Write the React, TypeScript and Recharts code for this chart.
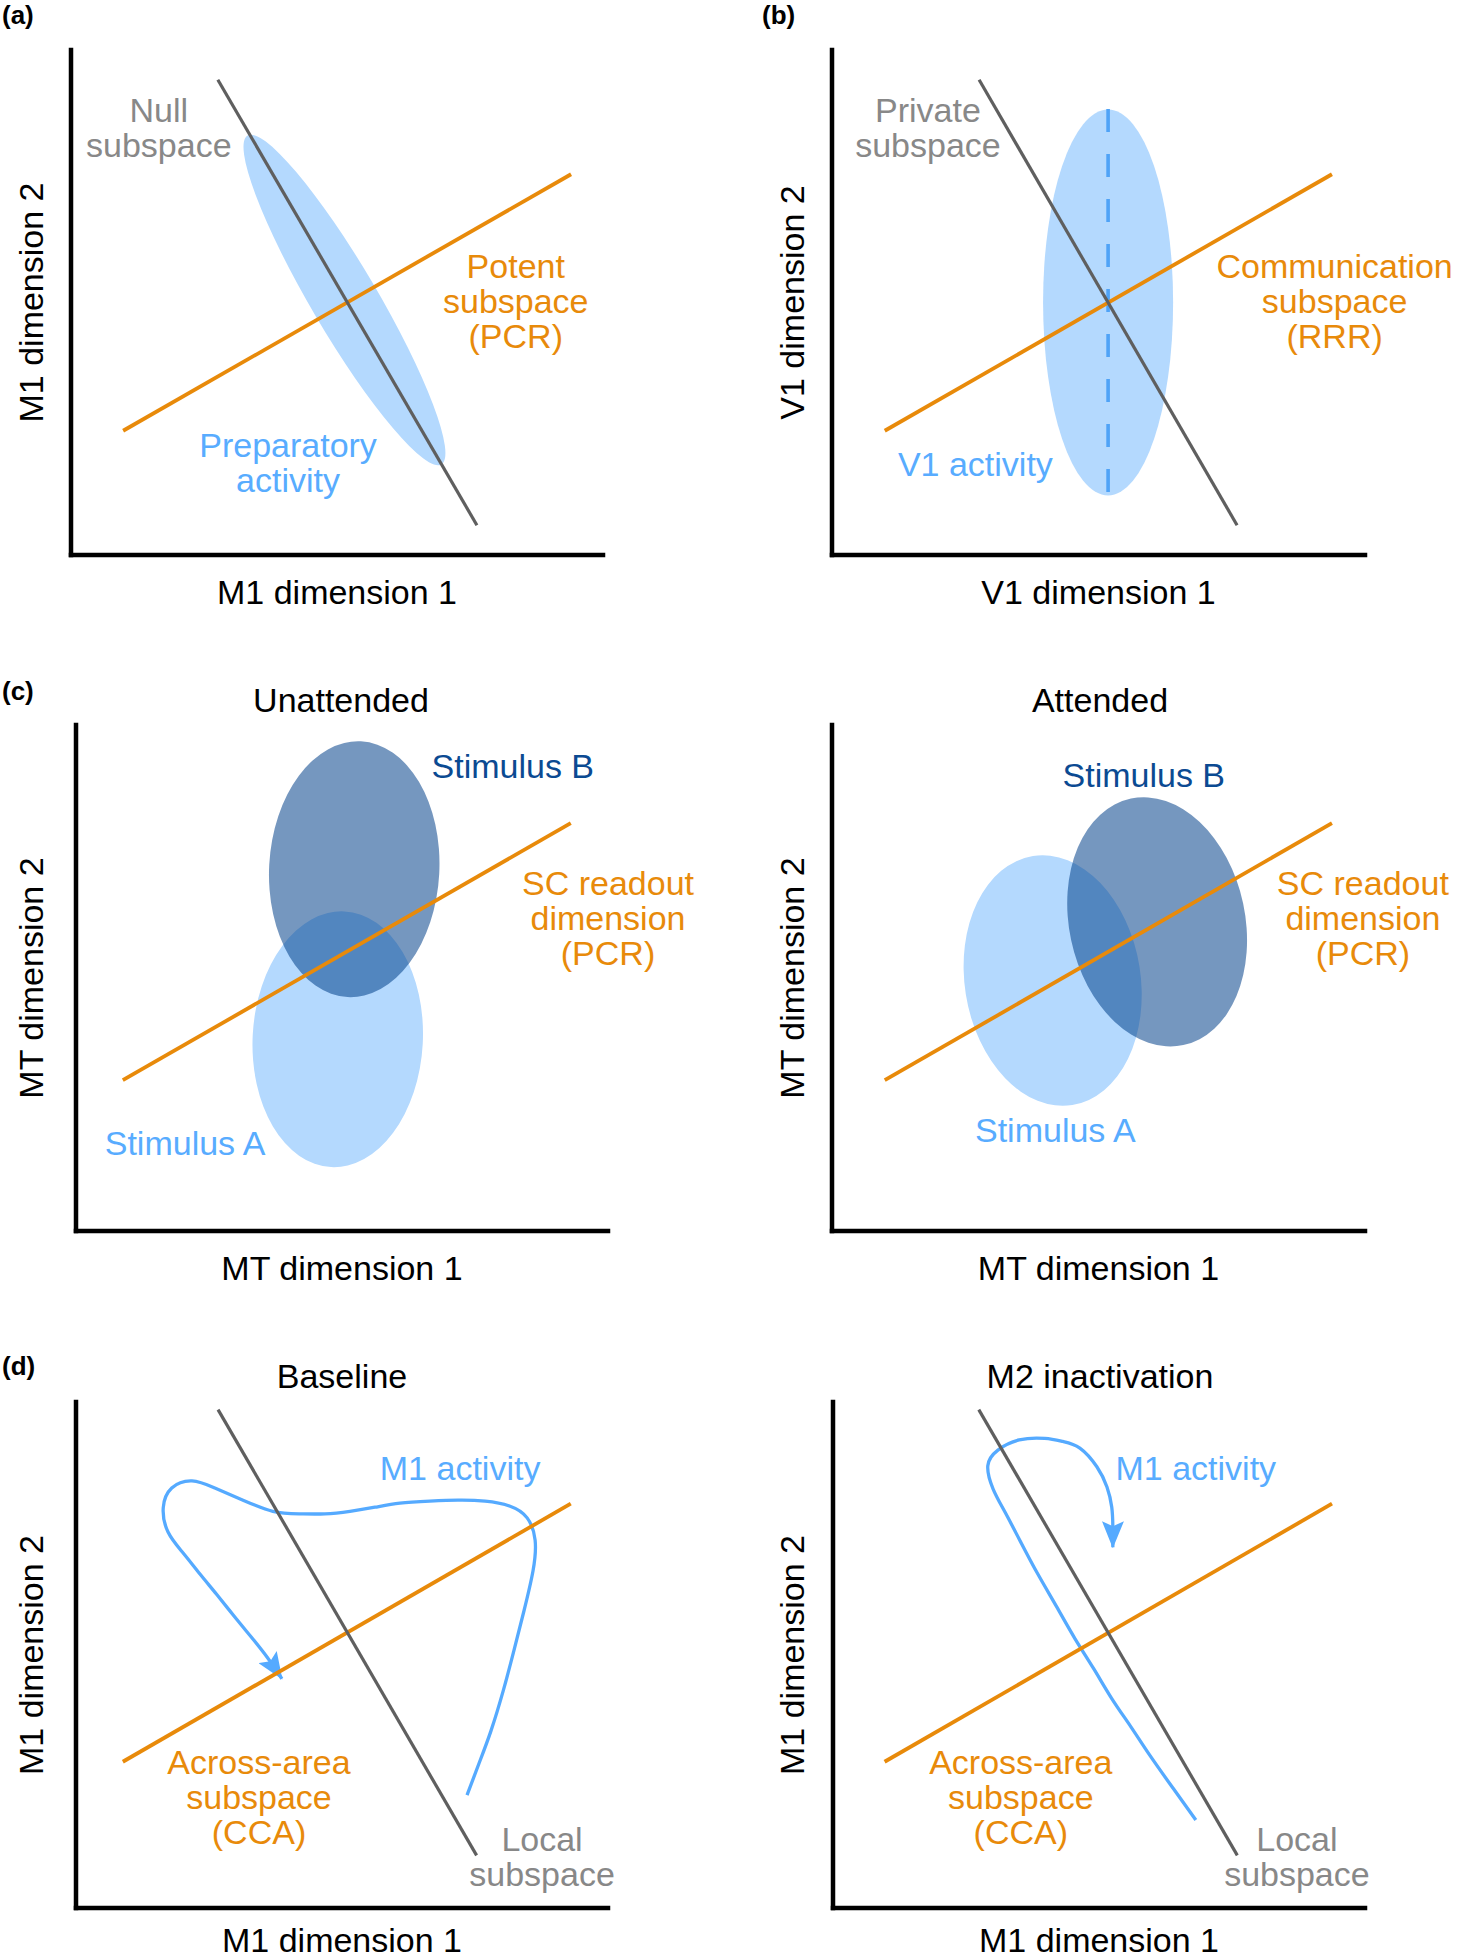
import React from "react";
import { ComposedChart, Line, Scatter, XAxis, YAxis } from "recharts";

type Pt = { x: number; y: number };
type Blob = { x: number; y: number; rx: number; ry: number; tilt: number };
type Note = { x: number; y: number; lines: string[] };

// all values in "dimension" units, 0..100 on both axes of every panel

// (a) M1 preparatory activity
const nullLineA: Pt[] = [{ x: 27.6, y: 94.1 }, { x: 76.3, y: 5.9 }];
const potentLineA: Pt[] = [{ x: 9.8, y: 24.6 }, { x: 94.0, y: 75.4 }];
const prepCloudA: Blob[] = [{ x: 51.4, y: 50.5, rx: 6.2, ry: 37.8, tilt: -30.5 }];
const greyNotesA: Note[] = [{ x: 16.5, y: 85.7, lines: ["Null", "subspace"] }];
const orangeNotesA: Note[] = [{ x: 83.6, y: 54.9, lines: ["Potent", "subspace", "(PCR)"] }];
const blueNotesA: Note[] = [{ x: 40.8, y: 19.4, lines: ["Preparatory", "activity"] }];

// (b) V1 activity
const privateLineB: Pt[] = [{ x: 27.6, y: 94.1 }, { x: 76.0, y: 5.9 }];
const commLineB: Pt[] = [{ x: 9.9, y: 24.6 }, { x: 93.8, y: 75.4 }];
const v1CloudB: Blob[] = [{ x: 51.8, y: 50.0, rx: 12.2, ry: 38.2, tilt: 0 }];
const v1AxisB: Pt[] = [{ x: 51.8, y: 88.3 }, { x: 51.8, y: 11.7 }];
const greyNotesB: Note[] = [{ x: 18.0, y: 85.7, lines: ["Private", "subspace"] }];
const orangeNotesB: Note[] = [{ x: 94.3, y: 54.9, lines: ["Communication", "subspace", "(RRR)"] }];
const blueNotesB: Note[] = [{ x: 26.9, y: 15.7, lines: ["V1 activity"] }];

// (c) unattended
const readoutC1: Pt[] = [{ x: 8.8, y: 29.8 }, { x: 93.0, y: 80.6 }];
const stimAC1: Blob[] = [{ x: 49.2, y: 37.9, rx: 16.0, ry: 25.3, tilt: 3 }];
const stimBC1: Blob[] = [{ x: 52.3, y: 71.5, rx: 16.0, ry: 25.3, tilt: 3 }];
const navyNotesC1: Note[] = [{ x: 82.1, y: 89.6, lines: ["Stimulus B"] }];
const orangeNotesC1: Note[] = [{ x: 100, y: 66.4, lines: ["SC readout", "dimension", "(PCR)"] }];
const blueNotesC1: Note[] = [{ x: 20.5, y: 15.0, lines: ["Stimulus A"] }];

// (c) attended
const readoutC2: Pt[] = [{ x: 9.9, y: 29.8 }, { x: 93.8, y: 80.6 }];
const stimAC2: Blob[] = [{ x: 41.4, y: 49.5, rx: 16.5, ry: 24.9, tilt: -9 }];
const stimBC2: Blob[] = [{ x: 61.0, y: 61.1, rx: 16.5, ry: 24.9, tilt: -12 }];
const navyNotesC2: Note[] = [{ x: 58.5, y: 87.7, lines: ["Stimulus B"] }];
const orangeNotesC2: Note[] = [{ x: 99.6, y: 66.4, lines: ["SC readout", "dimension", "(PCR)"] }];
const blueNotesC2: Note[] = [{ x: 41.9, y: 17.6, lines: ["Stimulus A"] }];

// (d) baseline
const localLineD1: Pt[] = [{ x: 26.7, y: 98.5 }, { x: 75.3, y: 10.4 }];
const acrossLineD1: Pt[] = [{ x: 8.8, y: 28.9 }, { x: 93.0, y: 79.9 }];
const trajD1: Pt[] = [
  { x: 73.5, y: 22.3 }, { x: 75.8, y: 28.7 }, { x: 78.0, y: 35.0 }, { x: 80.3, y: 42.9 },
  { x: 82.3, y: 50.8 }, { x: 84.2, y: 58.7 }, { x: 85.9, y: 66.6 }, { x: 86.3, y: 72.7 },
  { x: 84.8, y: 77.1 }, { x: 81.6, y: 79.4 }, { x: 76.9, y: 80.4 }, { x: 71.8, y: 80.6 },
  { x: 66.5, y: 80.4 }, { x: 60.9, y: 80.0 }, { x: 56.2, y: 79.2 }, { x: 51.5, y: 78.4 },
  { x: 46.8, y: 77.9 }, { x: 42.1, y: 77.9 }, { x: 37.0, y: 78.4 }, { x: 31.4, y: 80.6 },
  { x: 26.1, y: 83.0 }, { x: 21.8, y: 84.4 }, { x: 18.0, y: 83.0 }, { x: 16.4, y: 79.1 },
  { x: 17.3, y: 74.3 }, { x: 20.1, y: 70.2 }, { x: 23.3, y: 66.0 }, { x: 26.5, y: 61.9 },
  { x: 29.7, y: 57.7 }, { x: 32.9, y: 53.6 }, { x: 35.9, y: 49.6 }, { x: 38.7, y: 45.3 },
];
const blueNotesD1: Note[] = [{ x: 72.2, y: 84.5, lines: ["M1 activity"] }];
const orangeNotesD1: Note[] = [{ x: 34.4, y: 26.4, lines: ["Across-area", "subspace", "(CCA)"] }];
const greyNotesD1: Note[] = [{ x: 87.6, y: 11.2, lines: ["Local", "subspace"] }];

// (d) M2 inactivation
const localLineD2: Pt[] = [{ x: 27.4, y: 98.5 }, { x: 76.0, y: 10.4 }];
const acrossLineD2: Pt[] = [{ x: 9.7, y: 28.9 }, { x: 93.8, y: 79.9 }];
const trajD2: Pt[] = [
  { x: 68.2, y: 17.4 }, { x: 63.9, y: 23.7 }, { x: 59.6, y: 30.1 }, { x: 56.0, y: 35.8 },
  { x: 52.4, y: 41.4 }, { x: 49.0, y: 47.3 }, { x: 45.5, y: 53.2 }, { x: 42.0, y: 59.6 },
  { x: 38.5, y: 66.0 }, { x: 35.4, y: 72.1 }, { x: 32.3, y: 78.3 }, { x: 30.1, y: 82.8 },
  { x: 29.1, y: 87.4 }, { x: 31.0, y: 90.5 }, { x: 35.0, y: 92.5 }, { x: 39.8, y: 92.8 },
  { x: 43.2, y: 92.2 }, { x: 46.4, y: 90.9 }, { x: 49.6, y: 87.2 }, { x: 51.5, y: 83.2 },
  { x: 52.4, y: 79.2 }, { x: 52.6, y: 75.3 }, { x: 52.6, y: 71.3 },
];
const blueNotesD2: Note[] = [{ x: 68.2, y: 84.5, lines: ["M1 activity"] }];
const orangeNotesD2: Note[] = [{ x: 35.3, y: 26.4, lines: ["Across-area", "subspace", "(CCA)"] }];
const greyNotesD2: Note[] = [{ x: 87.2, y: 11.2, lines: ["Local", "subspace"] }];

const FONT = "'Liberation Sans', Arial, Helvetica, sans-serif";
const FS = 34;
const LINE_GREY = "#5f5f5f";
const ORANGE = "#e88a0a";
const LIGHT = "#b4d9fe";
const DARK = "#003e88";
const BLUE = "#55aaff";
const TEXT_GREY = "#888888";
const TEXT_BLUE = "#58acff";
const TEXT_NAVY = "#0b4a92";

type Frame = {
  left: number; top: number; width: number; height: number;
  pl: number; pt: number; pr: number; pb: number; gap: number; below: number;
};

const FA: Frame = { left: 0, top: 0, width: 729, height: 640, pl: 71, pt: 50, pr: 603, pb: 555, gap: 28, below: 48.5 };
const FB: Frame = { left: 729, top: 0, width: 729, height: 640, pl: 832, pt: 50, pr: 1365, pb: 555, gap: 28, below: 48.5 };
const FC1: Frame = { left: 0, top: 640, width: 729, height: 660, pl: 76, pt: 725, pr: 608, pb: 1231, gap: 33, below: 48.5 };
const FC2: Frame = { left: 729, top: 640, width: 729, height: 660, pl: 832, pt: 725, pr: 1365, pb: 1231, gap: 28, below: 48.5 };
const FD1: Frame = { left: 0, top: 1320, width: 729, height: 680, pl: 76, pt: 1402, pr: 608, pb: 1908, gap: 33, below: 44 };
const FD2: Frame = { left: 729, top: 1320, width: 729, height: 680, pl: 833, pt: 1402, pr: 1365, pb: 1908, gap: 29, below: 44 };

const X_H = 50;
const Y_W = 60;
const AXIS = { stroke: "#000", strokeWidth: 4.5, strokeLinecap: "square" as const };

function XTitle(props: any) {
  const vb = props.viewBox || { x: 0, y: 0, width: 0 };
  return (
    <text x={vb.x + vb.width / 2} y={vb.y + props.below} textAnchor="middle" fontFamily={FONT} fontSize={FS} fill="#000">
      {props.text}
    </text>
  );
}

function YTitle(props: any) {
  const vb = props.viewBox || { x: 0, y: 0, width: 0, height: 0 };
  const x = vb.x + vb.width - props.gap;
  const y = vb.y + vb.height / 2;
  return (
    <text x={x} y={y} transform={`rotate(-90 ${x} ${y})`} textAnchor="middle" fontFamily={FONT} fontSize={FS} fill="#000">
      {props.text}
    </text>
  );
}

const noSymbol = () => <g />;

// straight subspace lines as scatter lines so they stack above the clouds
const straight = (key: string, data: Pt[], color: string, width: number, dash?: string) => (
  <Scatter key={key} data={data} dataKey="y" isAnimationActive={false} shape={noSymbol}
    line={{ stroke: color, strokeWidth: width, strokeDasharray: dash }} lineType="joint" />
);

const path = (key: string, data: Pt[]) => (
  <Line key={key} data={data} dataKey="y" type="natural" stroke={BLUE} strokeWidth={3.3}
    markerEnd="url(#arrowhead)" dot={false} activeDot={false} isAnimationActive={false} />
);

const cloud = (key: string, data: Blob[], f: Frame, fill: string, opacity: number) => {
  const sx = (f.pr - f.pl) / 100;
  const sy = (f.pb - f.pt) / 100;
  return (
    <Scatter key={key} data={data} dataKey="y" isAnimationActive={false}
      shape={(p: any) => {
        const b = p.payload as Blob;
        return (
          <ellipse cx={p.cx} cy={p.cy} rx={b.rx * sx} ry={b.ry * sy}
            transform={`rotate(${b.tilt} ${p.cx} ${p.cy})`} fill={fill} fillOpacity={opacity} />
        );
      }} />
  );
};

const notes = (key: string, data: Note[], color: string) => (
  <Scatter key={key} data={data} dataKey="y" isAnimationActive={false}
    shape={(p: any) => {
      const n = p.payload as Note;
      return (
        <text x={p.cx} y={p.cy} fill={color} textAnchor="middle" fontFamily={FONT} fontSize={FS}>
          {n.lines.map((l, i) => (
            <tspan key={i} x={p.cx} dy={i === 0 ? 0 : 35}>{l}</tspan>
          ))}
        </text>
      );
    }} />
);

function Panel({ f, xTitle, yTitle, children }: { f: Frame; xTitle: string; yTitle: string; children: React.ReactNode }) {
  return (
    <div style={{ position: "absolute", left: f.left, top: f.top }}>
      <ComposedChart width={f.width} height={f.height}
        margin={{
          top: f.pt - f.top,
          left: f.pl - f.left - Y_W,
          right: f.left + f.width - f.pr,
          bottom: f.top + f.height - f.pb - X_H,
        }}>
        <XAxis type="number" dataKey="x" domain={[0, 100]} height={X_H} tick={false} tickLine={false}
          axisLine={AXIS} label={<XTitle text={xTitle} below={f.below} />} />
        <YAxis type="number" domain={[0, 100]} width={Y_W} tick={false} tickLine={false}
          axisLine={AXIS} label={<YTitle text={yTitle} gap={f.gap} />} />
        {children}
      </ComposedChart>
    </div>
  );
}

const txt = { fontFamily: FONT, fontSize: FS, fill: "#000" };
const letter = { fontFamily: FONT, fontSize: 26, fontWeight: 700, fill: "#000" };

export default function App() {
  return (
    <div style={{ position: "fixed", left: 0, top: 0, width: 1458, height: 1959, overflow: "hidden", background: "#fff" }}>
      <Panel f={FA} xTitle="M1 dimension 1" yTitle="M1 dimension 2">
        {[
          cloud("prep", prepCloudA, FA, LIGHT, 1),
          straight("potent", potentLineA, ORANGE, 3.8),
          straight("null", nullLineA, LINE_GREY, 3.2),
          notes("ng", greyNotesA, TEXT_GREY),
          notes("no", orangeNotesA, ORANGE),
          notes("nb", blueNotesA, TEXT_BLUE),
        ]}
      </Panel>
      <Panel f={FB} xTitle="V1 dimension 1" yTitle="V1 dimension 2">
        {[
          cloud("v1", v1CloudB, FB, LIGHT, 1),
          straight("v1axis", v1AxisB, "#4fa3f7", 3.6, "23 22"),
          straight("comm", commLineB, ORANGE, 3.8),
          straight("private", privateLineB, LINE_GREY, 3.2),
          notes("ng", greyNotesB, TEXT_GREY),
          notes("no", orangeNotesB, ORANGE),
          notes("nb", blueNotesB, TEXT_BLUE),
        ]}
      </Panel>
      <Panel f={FC1} xTitle="MT dimension 1" yTitle="MT dimension 2">
        {[
          cloud("a", stimAC1, FC1, LIGHT, 1),
          cloud("b", stimBC1, FC1, DARK, 0.54),
          straight("readout", readoutC1, ORANGE, 3.8),
          notes("nn", navyNotesC1, TEXT_NAVY),
          notes("no", orangeNotesC1, ORANGE),
          notes("nb", blueNotesC1, TEXT_BLUE),
        ]}
      </Panel>
      <Panel f={FC2} xTitle="MT dimension 1" yTitle="MT dimension 2">
        {[
          cloud("a", stimAC2, FC2, LIGHT, 1),
          cloud("b", stimBC2, FC2, DARK, 0.54),
          straight("readout", readoutC2, ORANGE, 3.8),
          notes("nn", navyNotesC2, TEXT_NAVY),
          notes("no", orangeNotesC2, ORANGE),
          notes("nb", blueNotesC2, TEXT_BLUE),
        ]}
      </Panel>
      <Panel f={FD1} xTitle="M1 dimension 1" yTitle="M1 dimension 2">
        {[
          straight("across", acrossLineD1, ORANGE, 3.8),
          straight("local", localLineD1, LINE_GREY, 3.2),
          path("traj", trajD1),
          notes("nb", blueNotesD1, TEXT_BLUE),
          notes("no", orangeNotesD1, ORANGE),
          notes("ng", greyNotesD1, TEXT_GREY),
        ]}
      </Panel>
      <Panel f={FD2} xTitle="M1 dimension 1" yTitle="M1 dimension 2">
        {[
          straight("across", acrossLineD2, ORANGE, 3.8),
          straight("local", localLineD2, LINE_GREY, 3.2),
          path("traj", trajD2),
          notes("nb", blueNotesD2, TEXT_BLUE),
          notes("no", orangeNotesD2, ORANGE),
          notes("ng", greyNotesD2, TEXT_GREY),
        ]}
      </Panel>
      <svg width={1458} height={1959} style={{ position: "absolute", left: 0, top: 0, pointerEvents: "none" }}>
        <defs>
          <marker id="arrowhead" viewBox="0 0 27 22" markerWidth={27} markerHeight={22} refX={26} refY={11}
            orient="auto" markerUnits="userSpaceOnUse">
            <path d="M0,0 L27,11 L0,22 L5,11 Z" fill={BLUE} />
          </marker>
        </defs>
        <text x={2} y={24} {...letter}>(a)</text>
        <text x={762} y={24} {...letter}>(b)</text>
        <text x={2} y={700} {...letter}>(c)</text>
        <text x={2} y={1375} {...letter}>(d)</text>
        <text x={341} y={712} textAnchor="middle" {...txt}>Unattended</text>
        <text x={1100} y={712} textAnchor="middle" {...txt}>Attended</text>
        <text x={342} y={1388} textAnchor="middle" {...txt}>Baseline</text>
        <text x={1100} y={1388} textAnchor="middle" {...txt}>M2 inactivation</text>
      </svg>
    </div>
  );
}
